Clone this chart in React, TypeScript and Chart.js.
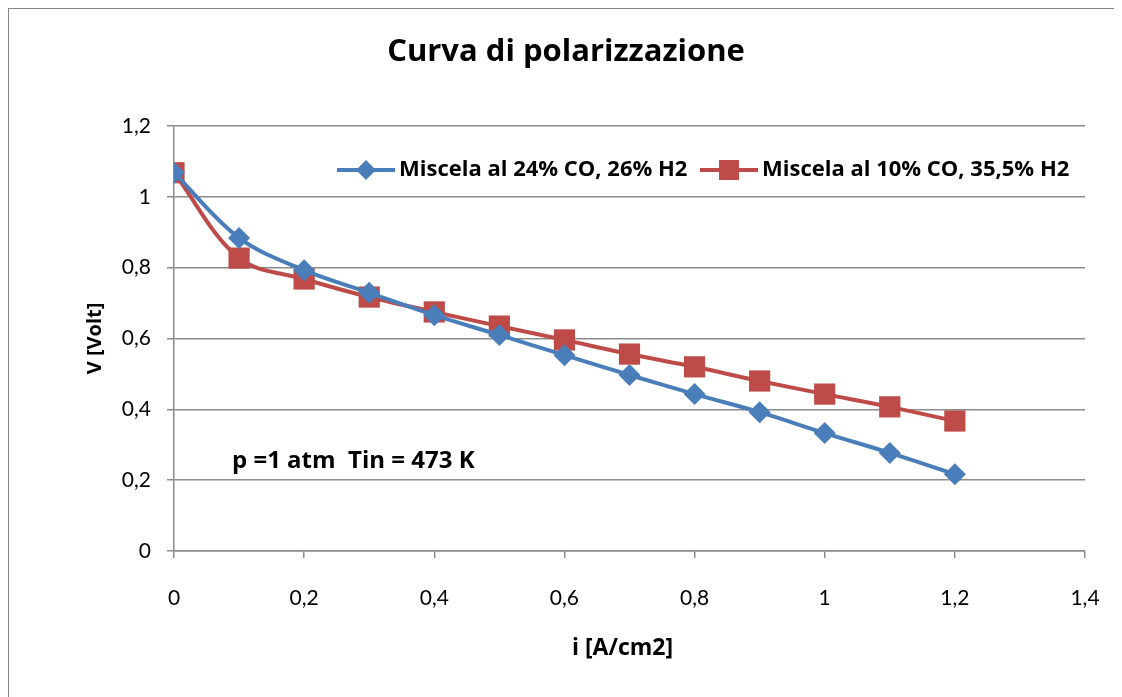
import React, { useEffect, useRef } from "react";
import { Chart, registerables } from "chart.js";

Chart.register(...registerables);

const currentDensity = [0, 0.1, 0.2, 0.3, 0.4, 0.5, 0.6, 0.7, 0.8, 0.9, 1.0, 1.1, 1.2];
const voltageMix24CO = [1.068, 0.884, 0.793, 0.729, 0.666, 0.61, 0.553, 0.497, 0.443, 0.392, 0.333, 0.277, 0.217];
const voltageMix10CO = [1.068, 0.827, 0.768, 0.717, 0.675, 0.635, 0.596, 0.556, 0.52, 0.48, 0.443, 0.407, 0.367];
const seriesLabels = ["Miscela al 24% CO, 26% H2", "Miscela al 10% CO, 35,5% H2"];
const chartTitle = "Curva di polarizzazione";
const xAxisTitle = "i [A/cm2]";
const yAxisTitle = "V [Volt]";
const noteText = "p =1 atm  Tin = 473 K";

const BLUE = "#4A7EBB";
const RED = "#BE4B48";
const FONT = "Lato, 'Open Sans', sans-serif";
const BFONT = "'Open Sans', Lato, sans-serif";
const GRID = "#8c8c8c";

const fmt = (v: number) => {
  const r = Math.round(v * 10) / 10;
  return String(r).replace(".", ",");
};

const textPlugin = {
  id: "texts",
  afterDraw(chart: any) {
    const ctx = chart.ctx as CanvasRenderingContext2D;
    const a = chart.chartArea;
    ctx.save();
    ctx.fillStyle = "#000";
    ctx.textAlign = "center";
    ctx.textBaseline = "middle";
    // title
    ctx.font = `bold 31px ${BFONT}`;
    ctx.fillText(chartTitle, 557, 43);
    // x title
    ctx.font = `bold 23px ${BFONT}`;
    ctx.fillText(xAxisTitle, (a.left + a.right) / 2 - 7, 639);
    // y title
    ctx.font = `bold 20px ${BFONT}`;
    ctx.save();
    ctx.translate(86, (a.top + a.bottom) / 2);
    ctx.rotate(-Math.PI / 2);
    ctx.fillText(yAxisTitle, 0, 0);
    ctx.restore();
    // note
    ctx.font = `bold 24px ${BFONT}`;
    ctx.textAlign = "left";
    ctx.fillText(noteText, 223, 452);
    // legend
    ctx.font = `bold 22px ${BFONT}`;
    const ly = 161;
    const items = [
      { x: 328, color: BLUE, style: "diamond", label: seriesLabels[0] },
      { x: 691, color: RED, style: "square", label: seriesLabels[1] },
    ];
    items.forEach((it) => {
      ctx.strokeStyle = it.color;
      ctx.lineWidth = 4;
      ctx.beginPath();
      ctx.moveTo(it.x, ly);
      ctx.lineTo(it.x + 58, ly);
      ctx.stroke();
      ctx.fillStyle = it.color;
      const cx = it.x + 29;
      if (it.style === "diamond") {
        ctx.beginPath();
        ctx.moveTo(cx, ly - 10);
        ctx.lineTo(cx + 10, ly);
        ctx.lineTo(cx, ly + 10);
        ctx.lineTo(cx - 10, ly);
        ctx.closePath();
        ctx.fill();
      } else {
        ctx.fillRect(cx - 10, ly - 10, 20, 20);
      }
      ctx.fillStyle = "#000";
      ctx.fillText(it.label, it.x + 62, ly);
    });
    ctx.restore();
  },
};

export default function App() {
  const ref = useRef<HTMLCanvasElement | null>(null);
  useEffect(() => {
    if (!ref.current) return;
    const chart = new Chart(ref.current, {
      type: "line",
      data: {
        datasets: [
          {
            label: seriesLabels[0],
            data: currentDensity.map((x, i) => ({ x, y: voltageMix24CO[i] })),
            borderColor: BLUE,
            backgroundColor: BLUE,
            borderWidth: 4,
            pointStyle: "rectRot",
            pointRadius: 11,
            pointBorderWidth: 0,
            tension: 0.35,
          },
          {
            label: seriesLabels[1],
            data: currentDensity.map((x, i) => ({ x, y: voltageMix10CO[i] })),
            borderColor: RED,
            backgroundColor: RED,
            borderWidth: 4,
            pointStyle: "rect",
            pointRadius: 15,
            pointBorderWidth: 0,
            tension: 0.35,
          },
        ],
      },
      options: {
        animation: false,
        responsive: false,
        maintainAspectRatio: false,
        layout: { padding: { left: 0, top: 117, right: 29, bottom: 0 } },
        plugins: { legend: { display: false }, title: { display: false }, tooltip: { enabled: false } },
        scales: {
          x: {
            type: "linear",
            min: 0,
            max: 1.4,
            ticks: { stepSize: 0.2, callback: (v: any) => fmt(Number(v)), color: "#000", font: { family: FONT, size: 21 }, padding: 28, maxRotation: 0 },
            grid: { display: true, drawOnChartArea: false, drawTicks: true, tickLength: 7, color: GRID, lineWidth: 1.5 },
            border: { color: GRID, width: 1.5 },
            afterFit: (s: any) => { s.height = 688 - 542; s.paddingLeft = 0; s.paddingRight = 0; },
          },
          y: {
            type: "linear",
            min: 0,
            max: 1.2,
            ticks: { stepSize: 0.2, callback: (v: any) => fmt(Number(v)), color: "#000", font: { family: FONT, size: 21 }, padding: 16 },
            grid: { display: true, drawOnChartArea: true, drawTicks: true, tickLength: 7, color: GRID, lineWidth: 1.5 },
            border: { color: GRID, width: 1.5 },
            afterFit: (s: any) => { s.width = 165; s.paddingTop = 0; s.paddingBottom = 0; },
          },
        },
      },
      plugins: [textPlugin],
    });
    return () => chart.destroy();
  }, []);
  return (
    <div style={{ width: 1105, height: 700, border: "1px solid #868686" }}>
      <canvas ref={ref} width={1105} height={688} style={{ display: "block" }} />
    </div>
  );
}
